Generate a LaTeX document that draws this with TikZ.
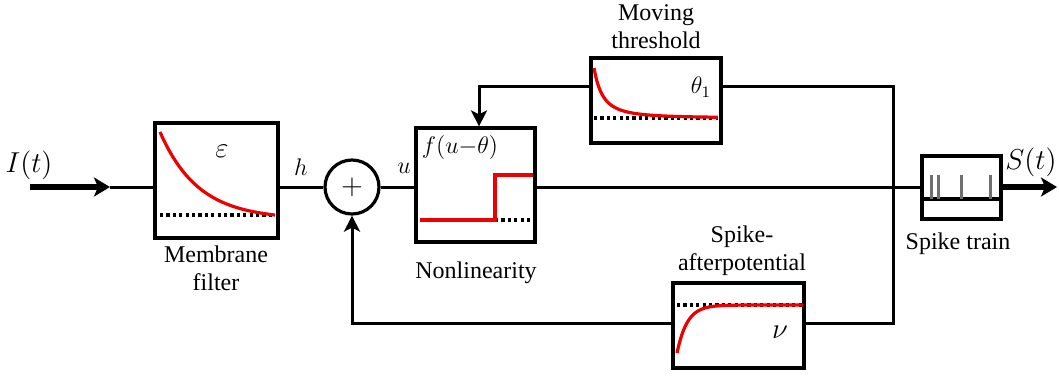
\documentclass[tikz,border=0pt]{standalone}
\usepackage{fontspec}
\setmainfont{Liberation Serif}
\usetikzlibrary{arrows.meta,positioning,calc}
\definecolor{trace}{HTML}{EE0000}
\definecolor{spikegray}{HTML}{707070}

\begin{document}
\begin{tikzpicture}[
  x=0.5pt, y=-0.5pt,
  block/.style={draw, line width=1.6pt, inner sep=0pt},
  wire/.style={line width=1.5pt},
  feed/.style={wire, -{Stealth[length=8pt, width=8pt, inset=2pt]}},
  bigarrow/.style={line width=2.9pt, -{Stealth[length=8pt, width=9.5pt, inset=2pt]}},
  trace/.style={draw=trace, line width=1.6pt},
  rest/.style={line width=1.6pt, dash pattern=on 1.6pt off 1.6pt},
  caption/.style={font=\large, align=center},
  sym/.style={font=\Large},
]
  \useasboundingbox (0,0) rectangle (1059,377);

  % Blocks
  \node[block, minimum width=61.5pt, minimum height=57.5pt] (memb) at (216.5,180.5) {};
  \node[block, circle, minimum size=27pt] (sum) at (352,187) {\Large$+$};
  \node[block, minimum width=59.5pt, minimum height=57pt] (nonl) at (475.5,185) {};
  \node[block, minimum width=65pt, minimum height=42.5pt] (thr) at (656,100.5) {};
  \node[block, minimum width=65.5pt, minimum height=42.5pt] (sap) at (738.5,325.5) {};
  \node[block, minimum width=39.5pt, minimum height=31.5pt] (spk) at (961.5,187.5) {};

  % End points and corners
  \coordinate (in) at (30,187);
  \coordinate (inhead) at (110,187);
  \coordinate (out) at (1057,187);
  \coordinate (fbtop) at (893,86);
  \coordinate (fbbot) at (893,323);

  % Block contents
  \draw[rest] (160,215) -- (275,215);
  \draw[trace] plot[domain=0:1, samples=60]
    ({160+115*\x},{215-83*(exp(-3*\x)-exp(-3))/(1-exp(-3))});

  \draw[rest] (495,220) -- (531,220);
  \draw[trace] (420,220) -- (495,220) -- (495,175) -- (533,175);

  \draw[rest] (594,118) -- (718,118);
  \draw[trace] plot[domain=0:1, samples=80]
    ({594+124*\x},{118-50/((1+7*\x)*(1+7*\x))});

  \draw[rest] (677,305) -- (803,305);
  \draw[trace] plot[domain=0:1, samples=80]
    ({677+126*\x},{305+48*exp(-12.5*\x)});

  \draw[line width=1.6pt] (spk.west |- 0,199) -- (spk.east |- 0,199);
  \foreach \s in {931,938,961,990}
    \draw[spikegray, line width=1.5pt] (\s,175) -- (\s,199);

  % Signal path
  \draw[bigarrow] (in) -- (inhead);
  \draw[wire] (inhead) -- (memb.west |- in);
  \draw[wire] (memb.east |- sum) -- (sum.west);
  \draw[wire] (sum.east) -- (nonl.west |- sum);
  \draw[wire] (nonl.east |- sum) -- (spk.west |- sum);
  \draw[bigarrow] (spk.east |- out) -- (out);

  % Feedback loops
  \draw[wire] (thr.east |- fbtop) -| (fbbot) -- (sap.east |- fbbot);
  \draw[feed] (thr.west |- fbtop) -| ([xshift=1.75pt]nonl.north);
  \draw[feed] (sap.west |- fbbot) -| (sum.south);

  % Symbols
  \node[sym] (Ilab) at (29,165) {$I(t)$};
  \node[sym] (Slab) at (1031,162) {$S(t)$};
  \node[sym] (epslab) at (222,151) {$\varepsilon$};
  \node[font=\large] (hlab) at (301,167) {$h$};
  \node[font=\large] (ulab) at (404,168) {$u$};
  \node[font=\large] (flab) at (460,147) {$f(u{-}\theta)$};
  \node[font=\large] (th1) at (701,87) {$\theta_1$};
  \node[sym] (nulab) at (780,332) {$\nu$};

  % Captions
  \node[caption] (membcap) at (216,268) {Membrane\\filter};
  \node[caption] (nonlcap) at (476,273) {Nonlinearity};
  \node[caption] (thrcap) at (656,27) {Moving\\threshold};
  \node[caption] (sapcap) at (742,251) {Spike-\\afterpotential};
  \node[caption] (spkcap) at (958,244) {Spike train};
\end{tikzpicture}
\end{document}
